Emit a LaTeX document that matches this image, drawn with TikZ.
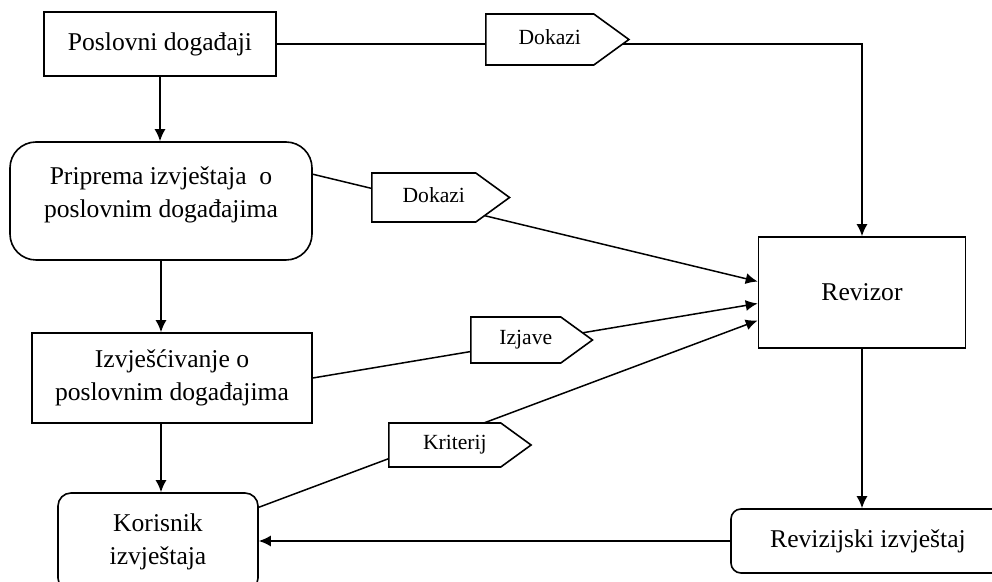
\documentclass[tikz,border=0pt]{standalone}
\usepackage{fontspec}
\setmainfont{Liberation Serif}
\usepackage{tikz}
\usetikzlibrary{arrows.meta}
\usetikzlibrary{shapes.symbols}
\newcommand{\boxfont}{\fontsize{12.8}{16.5}\selectfont}
\newcommand{\tagfont}{\fontsize{10.8}{13}\selectfont}
\tikzset{box/.style = {shape=rectangle,draw,line width=0.8pt,align=center,font=\boxfont,inner sep=0pt}}
\tikzset{tag/.style = {shape=signal,signal to=east,signal pointer angle=72,draw,fill=white,line width=0.8pt,font=\tagfont,inner sep=0pt,anchor=west,align=center,execute at begin node=\hspace*{10pt}}}
\tikzset{tagsize/.style 2 args = {text width=#1,text height=#2/2+2.5pt,text depth=#2/2-2.5pt}}
\tikzset{edge/.style = {-{Latex[length=6pt,width=5.5pt]},line width=0.75pt}}

\begin{document}
\begin{tikzpicture}[x=0.5pt,y=-0.5pt]
            \useasboundingbox (0,0) rectangle (992,582);
            \clip (0,0) rectangle (992,582);

            \node[box,minimum width=116pt,minimum height=32pt] (pos) at (160,44) {Poslovni događaji};
            \node[box,rounded corners=13pt,minimum width=151pt,minimum height=59pt,text depth=8.8pt] (prip) at (161,201) {Priprema izvještaja~ o\\poslovnim događajima};
            \node[box,minimum width=140pt,minimum height=45pt] (izv) at (172,378) {Izvješćivanje o\\poslovnim događajima};
            \node[box,rounded corners=6.5pt,minimum width=100pt,minimum height=49pt] (kor) at (158,542) {Korisnik\\izvještaja};
            \node[box,minimum width=103.5pt,minimum height=55.5pt] (rev) at (862,292.5) {Revizor};
            \node[box,rounded corners=5pt,minimum width=137pt,minimum height=32pt] (rizv) at (868,541) {Revizijski izvještaj};

            \draw[edge] (pos.south) to (pos.south |- prip.north);
            \draw[edge] (prip.south) to (prip.south |- izv.north);
            \draw[edge] (izv.south -| prip.south) to (prip.south |- kor.north);
            \draw[edge] (rev.south) to (rev.south |- rizv.north);
            \draw[edge] (rizv.west) to (rizv.west -| kor.east);

            \draw[edge] (pos.east) -| (rev.north);
            \draw[edge] (prip.10) to (rev.174);
            \draw[edge] (izv.east) to (rev.186);
            \draw[edge] (kor.19) to (rev.195);

            \node[tag,tagsize={54pt}{25.5pt}] (dok1) at (485,39.5) {Dokazi};
            \node[tag,tagsize={52pt}{24.5pt}] (dok2) at (371,197.5) {Dokazi};
            \node[tag,tagsize={45pt}{23pt}] (izj) at (470,340) {Izjave};
            \node[tag,tagsize={56pt}{22pt}] (krit) at (388,445) {Kriterij};
            \end{tikzpicture}
\end{document}
